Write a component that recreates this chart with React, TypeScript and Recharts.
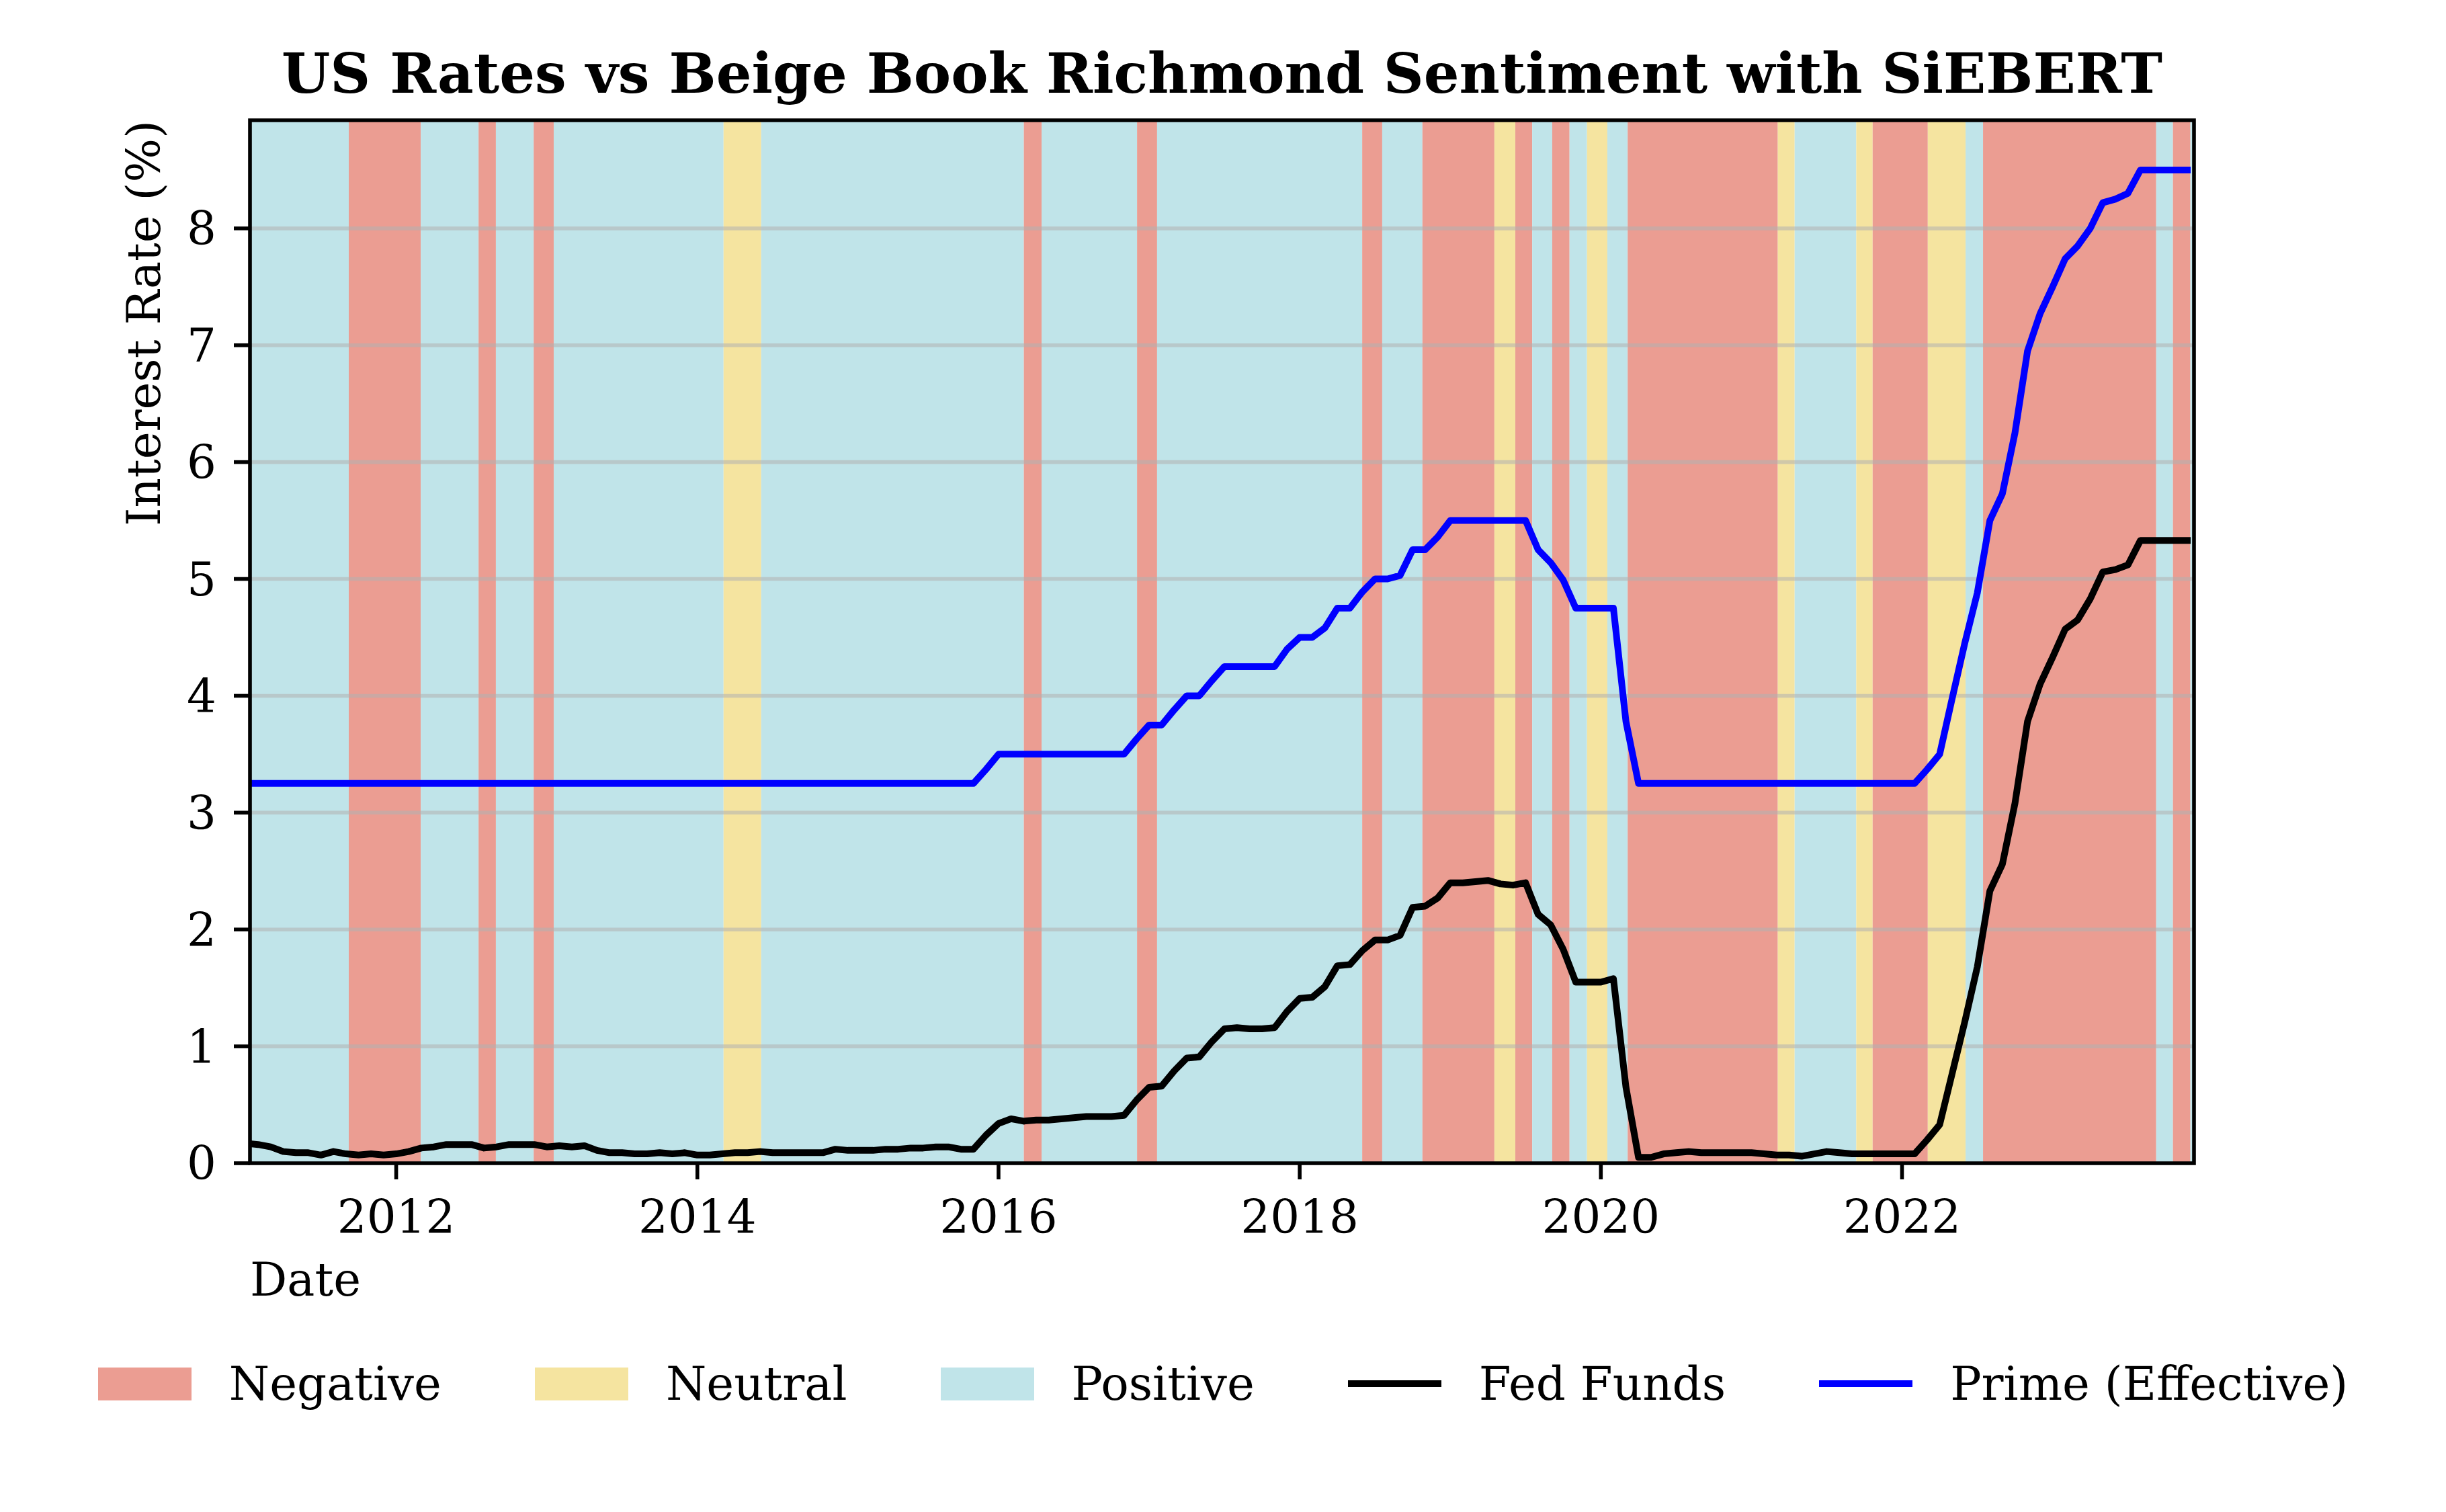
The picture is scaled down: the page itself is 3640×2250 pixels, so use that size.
import React from "react";
import { ComposedChart, Line, XAxis, YAxis, ReferenceArea, ReferenceLine, Legend } from "recharts";

const SERIF = '"DejaVu Serif", serif';

// monthly observations, first of each month
const years = [2011, 2012, 2013, 2014, 2015, 2016, 2017, 2018, 2019, 2020, 2021, 2022, 2023];

const fedFunds = [
  0.17, 0.16, 0.14, 0.1, 0.09, 0.09, 0.07, 0.1, 0.08, 0.07, 0.08, 0.07,
  0.08, 0.1, 0.13, 0.14, 0.16, 0.16, 0.16, 0.13, 0.14, 0.16, 0.16, 0.16,
  0.14, 0.15, 0.14, 0.15, 0.11, 0.09, 0.09, 0.08, 0.08, 0.09, 0.08, 0.09,
  0.07, 0.07, 0.08, 0.09, 0.09, 0.1, 0.09, 0.09, 0.09, 0.09, 0.09, 0.12,
  0.11, 0.11, 0.11, 0.12, 0.12, 0.13, 0.13, 0.14, 0.14, 0.12, 0.12, 0.24,
  0.34, 0.38, 0.36, 0.37, 0.37, 0.38, 0.39, 0.4, 0.4, 0.4, 0.41, 0.54,
  0.65, 0.66, 0.79, 0.9, 0.91, 1.04, 1.15, 1.16, 1.15, 1.15, 1.16, 1.3,
  1.41, 1.42, 1.51, 1.69, 1.7, 1.82, 1.91, 1.91, 1.95, 2.19, 2.2, 2.27,
  2.4, 2.4, 2.41, 2.42, 2.39, 2.38, 2.4, 2.13, 2.04, 1.83, 1.55, 1.55,
  1.55, 1.58, 0.65, 0.05, 0.05, 0.08, 0.09, 0.1, 0.09, 0.09, 0.09, 0.09,
  0.09, 0.08, 0.07, 0.07, 0.06, 0.08, 0.1, 0.09, 0.08, 0.08, 0.08, 0.08,
  0.08, 0.08, 0.2, 0.33, 0.77, 1.21, 1.68, 2.33, 2.56, 3.08, 3.78, 4.1,
  4.33, 4.57, 4.65, 4.83, 5.06, 5.08, 5.12, 5.33, 5.33, 5.33, 5.33, 5.33,
];

const primeRate = [
  3.25, 3.25, 3.25, 3.25, 3.25, 3.25, 3.25, 3.25, 3.25, 3.25, 3.25, 3.25,
  3.25, 3.25, 3.25, 3.25, 3.25, 3.25, 3.25, 3.25, 3.25, 3.25, 3.25, 3.25,
  3.25, 3.25, 3.25, 3.25, 3.25, 3.25, 3.25, 3.25, 3.25, 3.25, 3.25, 3.25,
  3.25, 3.25, 3.25, 3.25, 3.25, 3.25, 3.25, 3.25, 3.25, 3.25, 3.25, 3.25,
  3.25, 3.25, 3.25, 3.25, 3.25, 3.25, 3.25, 3.25, 3.25, 3.25, 3.25, 3.37,
  3.5, 3.5, 3.5, 3.5, 3.5, 3.5, 3.5, 3.5, 3.5, 3.5, 3.5, 3.63,
  3.75, 3.75, 3.88, 4.0, 4.0, 4.13, 4.25, 4.25, 4.25, 4.25, 4.25, 4.4,
  4.5, 4.5, 4.58, 4.75, 4.75, 4.89, 5.0, 5.0, 5.03, 5.25, 5.25, 5.36,
  5.5, 5.5, 5.5, 5.5, 5.5, 5.5, 5.5, 5.25, 5.14, 4.99, 4.75, 4.75,
  4.75, 4.75, 3.78, 3.25, 3.25, 3.25, 3.25, 3.25, 3.25, 3.25, 3.25, 3.25,
  3.25, 3.25, 3.25, 3.25, 3.25, 3.25, 3.25, 3.25, 3.25, 3.25, 3.25, 3.25,
  3.25, 3.25, 3.37, 3.5, 3.98, 4.45, 4.88, 5.5, 5.73, 6.25, 6.95, 7.27,
  7.5, 7.74, 7.85, 8.0, 8.22, 8.25, 8.3, 8.5, 8.5, 8.5, 8.5, 8.5,
];

// Beige Book release dates (decimal years) where the sentiment band changes
const bandEdges = [
  2011.029, 2011.685, 2012.163, 2012.547, 2012.662, 2012.913, 2013.046, 2014.174,
  2014.424, 2016.168, 2016.286, 2016.92, 2017.053, 2018.415, 2018.548, 2018.815,
  2019.293, 2019.432, 2019.544, 2019.677, 2019.792, 2019.908, 2020.043, 2020.178,
  2021.175, 2021.287, 2021.696, 2021.805, 2022.171, 2022.422, 2022.538, 2023.688,
  2023.799, 2023.915, 2023.939,
];
const bandSentiment = [
  "Positive", "Negative", "Positive", "Negative", "Positive", "Negative", "Positive", "Neutral",
  "Positive", "Negative", "Positive", "Negative", "Positive", "Negative", "Positive", "Negative",
  "Neutral", "Negative", "Positive", "Negative", "Positive", "Neutral", "Positive", "Negative",
  "Neutral", "Positive", "Neutral", "Negative", "Neutral", "Positive", "Negative", "Positive",
  "Negative", "Positive",
];

const xTicks = [2012, 2014, 2016, 2018, 2020, 2022];
const yTicks = [0, 1, 2, 3, 4, 5, 6, 7, 8];

const X_MIN = 2011.029;
const X_MAX = 2023.939;
const Y_MAX = 8.925;

const COLORS: Record<string, string> = {
  Negative: "#EB9D92",
  Neutral: "#F5E4A0",
  Positive: "#C0E4E9",
};

const rows = fedFunds.map((v, i) => ({
  t: years[Math.floor(i / 12)] + (i % 12) / 12,
  fed: v,
  prime: primeRate[i],
}));

const bands = bandSentiment.map((s, i) => ({ s, x1: bandEdges[i], x2: bandEdges[i + 1] }));

const legendItems = [
  { label: "Negative", kind: "patch", color: COLORS.Negative },
  { label: "Neutral", kind: "patch", color: COLORS.Neutral },
  { label: "Positive", kind: "patch", color: COLORS.Positive },
  { label: "Fed Funds", kind: "line", color: "#000000" },
  { label: "Prime (Effective)", kind: "line", color: "#0000ff" },
];

function LegendBox() {
  return (
    <div
      style={{
        display: "flex",
        justifyContent: "center",
        alignItems: "center",
        height: 98,
        gap: 139,
        fontFamily: SERIF,
        fontSize: 69,
        color: "#000",
      }}
    >
      {legendItems.map((it) => (
        <div key={it.label} style={{ display: "flex", alignItems: "center" }}>
          <div
            style={{
              width: 139,
              height: it.kind === "patch" ? 49 : 10,
              background: it.color,
              marginRight: 56,
            }}
          />
          <span style={{ whiteSpace: "nowrap", lineHeight: "normal" }}>{it.label}</span>
        </div>
      ))}
    </div>
  );
}

const YLabel = () => (
  <text x={238} y={179} transform="rotate(-90 238 179)" textAnchor="end" fontSize={69} fontFamily={SERIF} fill="#000">
    Interest Rate (%)
  </text>
);

const XLabel = () => (
  <text x={372} y={1928} textAnchor="start" fontSize={69} fontFamily={SERIF} fill="#000">
    Date
  </text>
);

const tickStyle = { fontSize: 69, fill: "#000", fontFamily: SERIF };
const tickLine = { stroke: "#000", strokeWidth: 5.6 };

export default function App() {
  return (
    <div style={{ position: "absolute", left: 0, top: 0, width: 3640, height: 2250, background: "#fff" }}>
      <div
        style={{
          position: "absolute",
          left: 372,
          top: 68,
          width: 2893,
          textAlign: "center",
          fontFamily: SERIF,
          fontWeight: "bold",
          fontSize: 83,
          lineHeight: "83px",
          color: "#000",
          whiteSpace: "nowrap",
        }}
      >
        US Rates vs Beige Book Richmond Sentiment with SiEBERT
      </div>
      <ComposedChart width={3640} height={2250} data={rows} margin={{ top: 179, right: 375, left: 172, bottom: 369 }}>
        <XAxis
          type="number"
          dataKey="t"
          domain={[X_MIN, X_MAX]}
          allowDataOverflow
          ticks={xTicks}
          interval={0}
          tickFormatter={(v) => String(v)}
          height={150}
          tick={tickStyle}
          tickLine={tickLine}
          tickSize={24}
          tickMargin={31}
          axisLine={false}
          label={<XLabel />}
        />
        <YAxis
          type="number"
          domain={[0, Y_MAX]}
          allowDataOverflow
          ticks={yTicks}
          interval={0}
          width={200}
          tick={tickStyle}
          tickLine={tickLine}
          tickSize={24}
          tickMargin={26}
          axisLine={false}
          label={<YLabel />}
        />
        {bands.map((b, i) => (
          <ReferenceArea
            key={"band" + i}
            x1={b.x1}
            x2={b.x2}
            y1={0}
            y2={Y_MAX}
            fill={COLORS[b.s]}
            fillOpacity={1}
            stroke="none"
            ifOverflow="hidden"
            zIndex={100}
          />
        ))}
        {yTicks.slice(1).map((v) => (
          <ReferenceLine key={"g" + v} y={v} stroke="#b0b0b0" strokeOpacity={0.55} strokeWidth={5.6} zIndex={200} />
        ))}
        <Line
          type="linear"
          dataKey="fed"
          stroke="#000000"
          strokeWidth={10}
          strokeLinejoin="round"
          dot={false}
          activeDot={false}
          isAnimationActive={false}
          zIndex={400}
        />
        <Line
          type="linear"
          dataKey="prime"
          stroke="#0000ff"
          strokeWidth={10}
          strokeLinejoin="round"
          dot={false}
          activeDot={false}
          isAnimationActive={false}
          zIndex={400}
        />
        <ReferenceArea
          x1={X_MIN}
          x2={X_MAX}
          y1={0}
          y2={Y_MAX}
          fill="none"
          stroke="#000"
          strokeWidth={5.6}
          ifOverflow="visible"
          zIndex={500}
        />
        <Legend
          layout="horizontal"
          verticalAlign="middle"
          align="center"
          wrapperStyle={{ left: 0, top: 2010, width: 3640, height: 98 }}
          content={() => <LegendBox />}
        />
      </ComposedChart>
    </div>
  );
}
